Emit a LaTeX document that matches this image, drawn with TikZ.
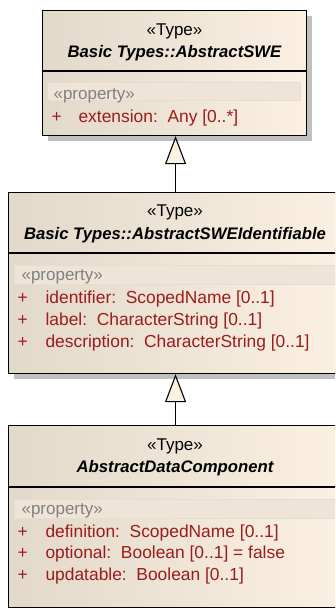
\documentclass[tikz,border=0pt]{standalone}
\usepackage{fontspec}
\setmainfont{Liberation Sans}
\usetikzlibrary{arrows.meta}

\definecolor{classleft}{HTML}{E2D9CB}
\definecolor{classmid}{HTML}{F6ECDE}
\definecolor{classright}{HTML}{FBF0E2}
\definecolor{bandfill}{HTML}{EEE5D8}
\definecolor{bandline}{HTML}{E6DDD0}
\definecolor{attrred}{HTML}{9B1C1C}
\definecolor{shadowgray}{HTML}{C0C0C0}

\begin{document}
\begin{tikzpicture}[x=1pt, y=1pt, line width=1.1pt]
		\tikzstyle{umlclass}=[draw, anchor=north west, inner sep=0pt,
			left color=classleft, middle color=classmid, right color=classright];
		\tikzstyle{shadow}=[fill=shadowgray, draw=none, anchor=north west, inner sep=0pt];
		\tikzstyle{band}=[fill=bandfill, draw=bandline, line width=0.6pt, anchor=north west, inner sep=0pt];
		\tikzstyle{txt}=[inner sep=0pt, font=\fontsize{17}{20}\selectfont];
		\tikzstyle{stereo}=[txt, anchor=base];
		\tikzstyle{classname}=[txt, anchor=base, font=\fontsize{16.7}{20}\selectfont\bfseries\itshape];
		\tikzstyle{propstereo}=[txt, anchor=base west, text=gray];
		\tikzstyle{attr}=[txt, anchor=base west, text=attrred, font=\fontsize{17.4}{20}\selectfont];
		\tikzstyle{generalize}=[-{Triangle[open, length=28pt, width=21pt, fill=classright]}];

		\useasboundingbox (0,0) rectangle (335,-608);
		\clip (0,0) rectangle (335,-608);

		% Basic Types::AbstractSWE
		\node[shadow, minimum width=264, minimum height=125] at (47,-15) {};
		\node[umlclass, minimum width=264, minimum height=125] (swe) at (42,-10) {};
		\draw (swe.west |- 0,-71) -- (swe.east |- 0,-71);
		\node[band, minimum width=253, minimum height=18] (swe-band) at (47,-82) {};
		\node[stereo] (swe-st) at (174.5,-35) {«Type»};
		\node[classname] (swe-name) at (174.5,-57) {Basic Types::AbstractSWE};
		\node[propstereo] (swe-prop) at (53,-99) {«property»};
		\node[attr] (swe-p1) at (51,-122) {+};
		\node[attr] (swe-a1) at (78,-122) {extension:\ \ Any [0..*]};

		% Basic Types::AbstractSWEIdentifiable
		\node[shadow, minimum width=334, minimum height=181] at (13,-197) {};
		\node[umlclass, minimum width=334, minimum height=181] (sweid) at (8,-192) {};
		\draw (sweid.west |- 0,-253) -- (sweid.east |- 0,-253);
		\node[band, minimum width=330, minimum height=19] (sweid-band) at (14,-265) {};
		\node[stereo] (sweid-st) at (175,-216) {«Type»};
		\node[classname] (sweid-name) at (175,-239) {Basic Types::AbstractSWEIdentifiable};
		\node[propstereo] (sweid-prop) at (21,-280) {«property»};
		\node[attr] (sweid-p1) at (17,-303) {+};
		\node[attr] (sweid-a1) at (45,-303) {identifier:\ \ ScopedName [0..1]};
		\node[attr] (sweid-p2) at (17,-325) {+};
		\node[attr] (sweid-a2) at (45,-325) {label:\ \ CharacterString [0..1]};
		\node[attr] (sweid-p3) at (17,-347) {+};
		\node[attr] (sweid-a3) at (45,-347) {description:\ \ CharacterString [0..1]};

		% AbstractDataComponent
		\node[umlclass, minimum width=334, minimum height=182] (datacomp) at (8,-425) {};
		\draw (datacomp.west |- 0,-487) -- (datacomp.east |- 0,-487);
		\node[band, minimum width=330, minimum height=19] (datacomp-band) at (14,-499) {};
		\node[stereo] (datacomp-st) at (175,-450) {«Type»};
		\node[classname] (datacomp-name) at (175,-472) {AbstractDataComponent};
		\node[propstereo] (datacomp-prop) at (21,-514) {«property»};
		\node[attr] (datacomp-p1) at (17,-537) {+};
		\node[attr] (datacomp-a1) at (45,-537) {definition:\ \ ScopedName [0..1]};
		\node[attr] (datacomp-p2) at (17,-558) {+};
		\node[attr] (datacomp-a2) at (45,-558) {optional:\ \ Boolean [0..1] = false};
		\node[attr] (datacomp-p3) at (17,-580) {+};
		\node[attr] (datacomp-a3) at (45,-580) {updatable:\ \ Boolean [0..1]};

		% generalizations
		\draw[generalize] (sweid.north) -- (sweid.north |- swe.south);
		\draw[generalize] (datacomp.north) -- (datacomp.north |- sweid.south);
	\end{tikzpicture}
\end{document}
